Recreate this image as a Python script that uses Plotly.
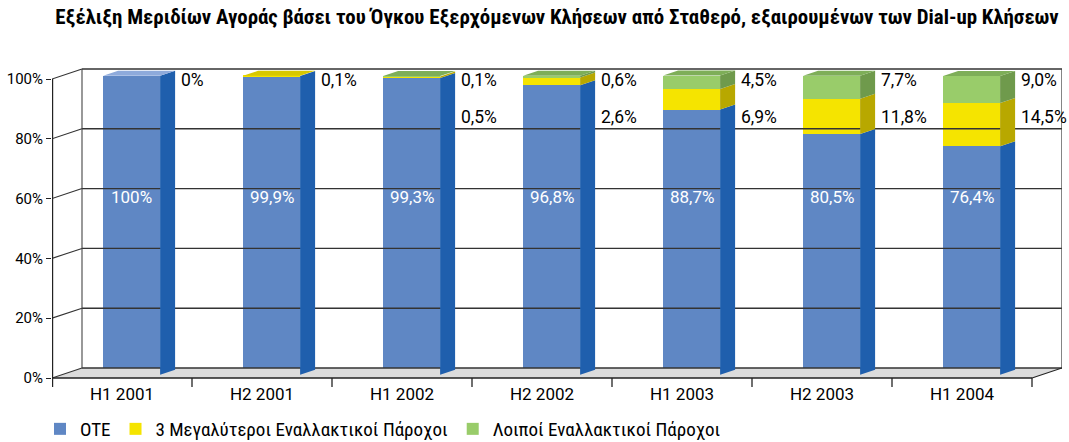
import plotly.graph_objects as go

# ---------------- data ----------------
categories = ["H1 2001", "H2 2001", "H1 2002", "H2 2002", "H1 2003", "H2 2003", "H1 2004"]
ote = [100, 99.9, 99.3, 96.8, 88.7, 80.5, 76.4]
big3 = [0, 0.1, 0.5, 2.6, 6.9, 11.8, 14.5]
others = [0, 0, 0.1, 0.6, 4.5, 7.7, 9.0]
ote_labels = ["100%", "99,9%", "99,3%", "96,8%", "88,7%", "80,5%", "76,4%"]
upper_labels = ["0%", "0,1%", "0,1%", "0,6%", "4,5%", "7,7%", "9,0%"]
lower_labels = ["", "", "0,5%", "2,6%", "6,9%", "11,8%", "14,5%"]
y_ticks = [0, 20, 40, 60, 80, 100]
y_tick_text = ["0%", "20%", "40%", "60%", "80%", "100%"]
series_names = ["OTE", "3 Μεγαλύτεροι Εναλλακτικοί Πάροχοι", "Λοιποί Εναλλακτικοί Πάροχοι"]

# ---------------- styling / geometry ----------------
FONT_C = "Roboto Condensed, Liberation Sans Narrow, DejaVu Sans Condensed, Roboto, sans-serif"
FONT = "Roboto, Noto Sans, DejaVu Sans, sans-serif"
front_col = ["#5f87c4", "#f5e400", "#99cc6a"]
side_col = ["#1f5fad", "#b8a800", "#6f9a4c"]
top_col = ["#8eaadb", "#d8c800", "#7eae58"]

PX_X = 140.0          # px per category
PX_Y = 2.99           # px per percent
DEPTH_DX = 30 / PX_X  # full depth shift in x units
DEPTH_DY = 10 / PX_Y  # full depth shift in y units
bar_w = 57 / PX_X
d_front, d_back = 0.32, 0.82

n = len(categories)
x0, x1 = -0.5, n - 0.5

fig = go.Figure()

def poly(xs, ys, color, line_color=None, width=0):
    fig.add_trace(go.Scatter(x=xs + [xs[0]], y=ys + [ys[0]], mode="lines", fill="toself",
                             fillcolor=color, line=dict(color=line_color or color, width=width),
                             hoverinfo="skip", showlegend=False))

def seg(xs, ys, color="#333333", width=1.3):
    fig.add_trace(go.Scatter(x=xs, y=ys, mode="lines", line=dict(color=color, width=width),
                             hoverinfo="skip", showlegend=False))

# floor
poly([x0, x1, x1 + DEPTH_DX, x0 + DEPTH_DX], [0, 0, DEPTH_DY, DEPTH_DY], "#dcdcdc")
# back wall gridlines and diagonals
for v in y_ticks:
    seg([x0 + DEPTH_DX, x1 + DEPTH_DX], [v + DEPTH_DY] * 2, "#333333", 1.4)
    seg([x0, x0 + DEPTH_DX], [v, v + DEPTH_DY], "#333333", 1.1)
seg([x0 + DEPTH_DX, x0 + DEPTH_DX], [DEPTH_DY, 100 + DEPTH_DY], "#444444", 1.1)
seg([x1 + DEPTH_DX, x1 + DEPTH_DX], [DEPTH_DY, 100 + DEPTH_DY], "#444444", 1.3)
# front floor edge and right diagonal
seg([x0, x1], [0, 0], "#222222", 1.6)
seg([x1, x1 + DEPTH_DX], [0, DEPTH_DY], "#222222", 1.1)
# front y axis line
seg([x0, x0], [-3.0, 100], "#222222", 2.4)
# category boundary ticks
bx, by = [], []
for k in range(n + 1):
    bx += [x0 + k, x0 + k, None]
    by += [0, -3.0, None]
seg(bx, by, "#222222", 1.3)

# bars
sx = d_front * DEPTH_DX
sy = d_front * DEPTH_DY
ddx = (d_back - d_front) * DEPTH_DX
ddy = (d_back - d_front) * DEPTH_DY
series = [ote, big3, others]
for s_idx, vals in enumerate(series):
    xs = [i + sx for i in range(n)]
    bases = [sy + sum(series[j][i] for j in range(s_idx)) for i in range(n)]
    fig.add_trace(go.Bar(x=xs, y=vals, base=bases, width=bar_w, marker=dict(color=front_col[s_idx], line=dict(width=0)),
                         name=series_names[s_idx], showlegend=True, hoverinfo="skip", legendrank=s_idx))
# side and top faces
for i in range(n):
    xr = i + sx + bar_w / 2
    xl = i + sx - bar_w / 2
    cum = sy
    top_idx = 0
    for s_idx, vals in enumerate(series):
        v = vals[i]
        if v <= 0:
            continue
        b, t = cum, cum + v
        poly([xr, xr + ddx, xr + ddx, xr], [b, b + ddy, t + ddy, t], side_col[s_idx])
        cum = t
        top_idx = s_idx
    poly([xl, xr, xr + ddx, xl + ddx], [cum, cum, cum + ddy, cum + ddy], top_col[top_idx])

# labels
ann = []
for i in range(n):
    ann.append(dict(x=i + sx, y=60.5, text=ote_labels[i], showarrow=False, xanchor="center", yanchor="middle",
                    font=dict(family=FONT, size=17, color="white")))
    lx = i + sx + bar_w / 2 + ddx + 0.03
    ann.append(dict(x=lx, y=99.6, text=upper_labels[i], showarrow=False, xanchor="left", yanchor="middle",
                    font=dict(family=FONT, size=17.5, color="black")))
    if lower_labels[i]:
        ann.append(dict(x=lx, y=87.3, text=lower_labels[i], showarrow=False, xanchor="left", yanchor="middle",
                        font=dict(family=FONT, size=17.5, color="black")))

T_PX, B_PX = 60, 388
y_top = (378 - T_PX) / PX_Y
y_bot = (378 - B_PX) / PX_Y
plot_h = B_PX - T_PX
fig.update_layout(
    width=1069, height=442,
    margin=dict(l=52, r=7, t=T_PX, b=442 - B_PX, autoexpand=False),
    paper_bgcolor="white", plot_bgcolor="white",
    barmode="overlay", bargap=0,
    title=dict(text="<b>Εξέλιξη Μεριδίων Αγοράς βάσει του Όγκου Εξερχόμενων Κλήσεων από Σταθερό, εξαιρουμένων των Dial-up Κλήσεων</b>",
               x=0.5, xref="paper", xanchor="center", y=1 - 17 / 442, yref="container", yanchor="middle",
               font=dict(family=FONT_C, size=20.9, color="black"), automargin=False),
    xaxis=dict(range=[x0, x1 + DEPTH_DX], tickvals=list(range(n)), ticktext=categories, showgrid=False,
               zeroline=False, showline=False, ticks="", automargin=False, ticklabelstandoff=-6,
               tickfont=dict(family=FONT, size=17, color="black")),
    yaxis=dict(range=[y_bot, y_top], tickvals=y_ticks, ticktext=y_tick_text, showgrid=False, zeroline=False,
               showline=False, ticks="outside", ticklen=5, tickcolor="#222222", tickwidth=1.3, automargin=False,
               tickfont=dict(family=FONT, size=15, color="black")),
    legend=dict(orientation="h", x=-12 / 1010, xanchor="left", y=-(410 - B_PX) / plot_h, yanchor="top",
                font=dict(family=FONT_C, size=19, color="black"), traceorder="normal", itemclick=False),
    annotations=ann,
    showlegend=True,
)
fig.write_html("out.html", config={"displayModeBar": False},
               post_script="document.body.style.margin='0px';document.body.style.overflow='hidden';")
